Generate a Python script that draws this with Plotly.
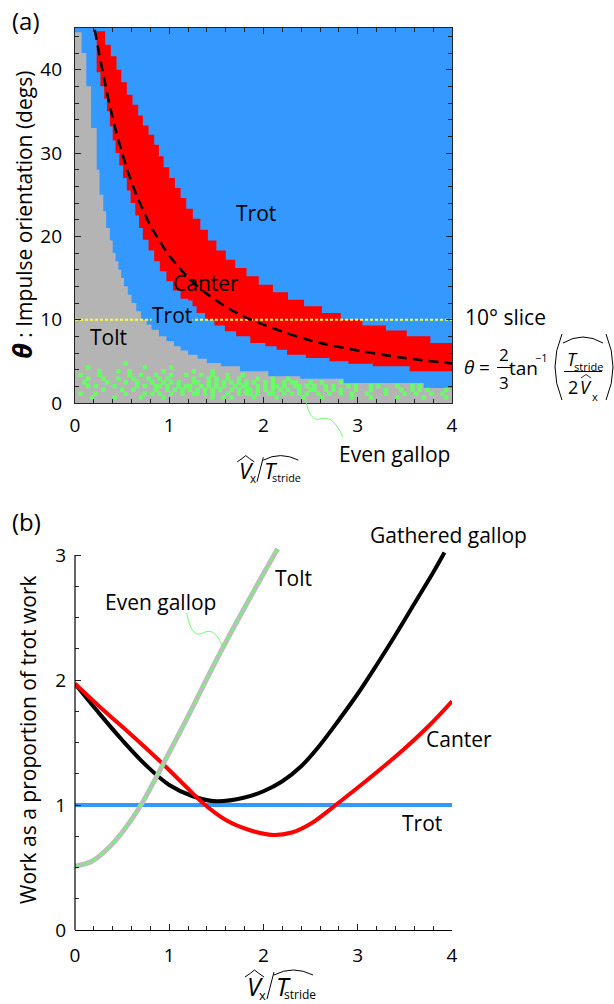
import plotly.graph_objects as go

# ================= Panel (a): gait map =================
# Tolt (gray) upper edge, staircase corners (x, theta in degrees)
tolt_edge_x = [0.00, 0.07, 0.12, 0.17, 0.23, 0.26, 0.30, 0.33, 0.37, 0.40,
               0.43, 0.46, 0.49, 0.52, 0.56, 0.60, 0.65, 0.70, 0.76, 0.82,
               0.89, 0.97, 1.05, 1.12, 1.20, 1.30, 1.40, 1.55, 1.75, 2.05,
               2.39, 2.85, 3.70, 4.00]
tolt_edge_t = [44.5, 42.0, 38.0, 33.0, 28.0, 25.0, 23.0, 21.0, 19.5, 18.0,
               17.0, 16.0, 15.0, 14.0, 13.0, 12.0, 11.0, 10.0, 9.4, 8.8,
               8.0, 7.4, 6.8, 6.3, 5.8, 5.3, 4.8, 4.4, 3.8, 3.2,
               2.9, 2.4, 1.8, 1.8]
# Canter (red) band: upper and lower staircase edges
canter_top_x = [0.23, 0.32, 0.38, 0.44, 0.49, 0.55, 0.61, 0.67, 0.72, 0.78,
                0.84, 0.89, 0.94, 1.00, 1.06, 1.12, 1.18, 1.25, 1.33, 1.41,
                1.50, 1.60, 1.70, 1.82, 1.95, 2.10, 2.26, 2.43, 2.62, 2.82,
                3.05, 3.30, 3.52, 3.77, 4.00]
canter_top_t = [44.6, 43.0, 41.6, 40.0, 38.5, 37.0, 35.8, 34.5, 33.3, 32.2,
                31.0, 29.6, 28.3, 27.0, 25.8, 24.6, 23.3, 22.1, 20.8, 19.5,
                18.3, 17.2, 16.2, 15.2, 14.2, 13.3, 12.4, 11.6, 10.8, 10.0,
                9.3, 8.7, 8.0, 7.2, 7.2]
canter_bot_x = [0.23, 0.27, 0.31, 0.34, 0.37, 0.40, 0.43, 0.47, 0.51, 0.55,
                0.59, 0.64, 0.68, 0.72, 0.78, 0.84, 0.90, 0.97, 1.04, 1.12,
                1.20, 1.29, 1.38, 1.48, 1.59, 1.71, 1.86, 2.02, 2.14, 2.25,
                2.45, 2.70, 2.90, 3.16, 3.55, 4.00]
canter_bot_t = [39.7, 38.0, 36.5, 35.0, 33.2, 31.5, 30.0, 28.5, 27.0, 25.5,
                24.0, 22.5, 21.0, 19.6, 18.3, 17.0, 15.8, 14.6, 13.5, 12.5,
                11.6, 10.8, 10.0, 9.3, 8.6, 8.0, 7.2, 6.8, 6.4, 5.8,
                5.4, 5.0, 4.7, 4.4, 3.8, 3.8]
# dashed curve theta = 2/3 atan(T/(2V))
fit_x = [0.21, 0.3, 0.4, 0.5, 0.6, 0.7, 0.8, 0.9, 1.0, 1.25, 1.5, 1.75,
         2.0, 2.5, 3.0, 3.5, 4.0]
fit_t = [44.8, 39.4, 34.2, 30.0, 26.5, 23.7, 21.3, 19.4, 17.7, 14.5, 12.3,
         10.6, 9.4, 7.5, 6.3, 5.4, 4.75]
slice_x = [0, 4]
slice_t = [10, 10]
# Even-gallop cells inside the tolt region (row 1 = bottom, 0.04 x 0.45 deg cells)
gallop_rows = [
    "....#....." "#......#.." "...#......" "......#..#" ".#.....#.." "...#......" "#....#...." "...#....#." ".....#...." "..#.....#.",
    ".#...#...." "...#....#." "#.#..#..#." ".##.#.#..." "#..#.##.#." ".##..#.#.#" ".#..#..#.." "#..#...#.." "..#....#.." "#...#..#..",
    ".......#.." "..#..#...." ".#..#.#.#." "#.#.#.#.#." ".#.#.##.#." "#.#.#.#..#" "..##..#.#." "#...#...#." "..#...#..#" ".#.#....#.",
    "...#.#...." "#.....#.#." ".##.#..#.#" "#..#.#.#.#" "..#.##..#." "#.##.#..##" ".#.#..#.#." "..#.#...#." "#....#...#" ".#........",
    "..#.....#." "...#..#..." "#..#.#.#.." ".##..#.#.#" ".#.#.#.#.." "#.#..#.##." "..#..#...." "#........." ".........." "..........",
    "...#...#.." ".#...#...#" "..#.#....." ".#...#.#.." "#..#....#." "..#...#..." ".........." ".........." ".........." "..........",
    ".#....#..." "....#..#.." ".#...#...#" "...#..#..." "#...#....." ".........." ".........." ".........." ".........." "..........",
    "......#..." ".#..#....." "...#......" ".#....#..." ".........." ".........." ".........." ".........." ".........." "..........",
    "...#......" "........#." ".....#...." ".........." ".........." ".........." ".........." ".........." ".........." "..........",
    ".........." "...#......" ".........." ".........." ".........." ".........." ".........." ".........." ".........." "..........",
]
CELL_W, CELL_H = 0.04, 0.45

# ================= Panel (b): work curves =================
trot_x = [0, 4]
trot_y = [1, 1]
canter_x = [0, 0.3, 0.6, 0.93, 1.2, 1.35, 1.6, 1.85, 2.1, 2.3, 2.5, 2.8, 3.1, 3.45, 3.75, 4.0]
canter_y = [1.97, 1.76, 1.56, 1.33, 1.13, 1.02, 0.88, 0.80, 0.76, 0.78, 0.85, 1.02, 1.20, 1.42, 1.63, 1.83]
gathered_x = [0, 0.25, 0.5, 0.75, 1.0, 1.25, 1.5, 1.8, 2.0, 2.2, 2.4, 2.6, 2.8, 3.0, 3.2, 3.4, 3.6, 3.8, 3.92]
gathered_y = [1.97, 1.74, 1.52, 1.32, 1.16, 1.07, 1.03, 1.06, 1.11, 1.19, 1.31, 1.48, 1.68, 1.89, 2.12, 2.36, 2.61, 2.86, 3.02]
tolt_x = [0, 0.18, 0.36, 0.52, 0.70, 0.93, 1.18, 1.5, 1.8, 2.15]
tolt_y = [0.51, 0.55, 0.66, 0.80, 1.00, 1.32, 1.68, 2.16, 2.58, 3.05]
even_x = [0, 0.18, 0.36, 0.52, 0.70, 0.93, 1.18, 1.5, 1.8, 2.15]
even_y = [0.51, 0.55, 0.66, 0.80, 1.00, 1.32, 1.68, 2.16, 2.58, 3.05]

# ================= styling =================
BLUE, RED, GRAY, GREEN = "#3399ff", "#ff0000", "#b4b4b4", "#66ff66"
FONT = "Open Sans"
W, H = 614, 1004
ML, MR, MT, MB = 75, 162, 28, 74


def PX(px):
    return (px - ML) / (W - ML - MR)


def PY(py):
    return (H - MB - py) / (H - MT - MB)


def P(px, py):
    return f"{PX(px):.5f},{PY(py):.5f}"


def stairs(xs, ts):
    X, T = [], []
    for i in range(len(xs) - 1):
        X += [xs[i], xs[i + 1]]
        T += [ts[i], ts[i]]
    X.append(xs[-1])
    T.append(ts[-1])
    return X, T


fig = go.Figure()

# --- panel (a) ---
gx, gt = stairs(tolt_edge_x, tolt_edge_t)
fig.add_trace(go.Scatter(x=[0] + gx + [gx[-1]], y=[0] + gt + [0], fill="toself",
                         fillcolor=GRAY, line=dict(width=0), mode="lines",
                         hoverinfo="skip", xaxis="x", yaxis="y"))
ux, ut = stairs(canter_top_x, canter_top_t)
lx, lt = stairs(canter_bot_x, canter_bot_t)
fig.add_trace(go.Scatter(x=ux + lx[::-1], y=ut + lt[::-1], fill="toself",
                         fillcolor=RED, line=dict(width=0), mode="lines",
                         hoverinfo="skip", xaxis="x", yaxis="y"))
cx, cy = [], []
for k, row in enumerate(gallop_rows, start=1):
    for j, ch in enumerate(row):
        if ch != "#":
            continue
        xc = (j + 0.5) * CELL_W
        idx = max(i for i in range(len(tolt_edge_x)) if tolt_edge_x[i] <= xc)
        if (k + 1) * CELL_H <= tolt_edge_t[idx]:
            cx.append(xc)
            cy.append((k + 0.5) * CELL_H)
fig.add_trace(go.Scatter(x=cx, y=cy, mode="markers",
                         marker=dict(symbol="square", size=4.3, color=GREEN, line=dict(width=0)),
                         hoverinfo="skip", xaxis="x", yaxis="y"))
fig.add_trace(go.Scatter(x=slice_x, y=slice_t, mode="lines",
                         line=dict(color="#ffff33", width=2, dash="3px,2px"),
                         hoverinfo="skip", xaxis="x", yaxis="y"))
fig.add_trace(go.Scatter(x=fit_x, y=fit_t, mode="lines", line_shape="spline",
                         line=dict(color="black", width=2.5, dash="10px,6px"),
                         hoverinfo="skip", xaxis="x", yaxis="y"))

# --- panel (b) ---
fig.add_trace(go.Scatter(x=trot_x, y=trot_y, mode="lines", line=dict(color=BLUE, width=4),
                         xaxis="x2", yaxis="y2"))
fig.add_trace(go.Scatter(x=gathered_x, y=gathered_y, mode="lines", line_shape="spline",
                         line=dict(color="black", width=4), xaxis="x2", yaxis="y2"))
fig.add_trace(go.Scatter(x=canter_x, y=canter_y, mode="lines", line_shape="spline",
                         line=dict(color=RED, width=4), xaxis="x2", yaxis="y2"))
fig.add_trace(go.Scatter(x=tolt_x, y=tolt_y, mode="lines", line_shape="spline",
                         line=dict(color="#bdbdbd", width=5), xaxis="x2", yaxis="y2"))
fig.add_trace(go.Scatter(x=even_x, y=even_y, mode="lines", line_shape="spline",
                         line=dict(color=GREEN, width=2, dash="5px,4px"), xaxis="x2", yaxis="y2"))

tickfont = dict(family=FONT, size=19, color="black")
axis_common = dict(showgrid=False, zeroline=False, ticks="inside", tickfont=tickfont,
                   tickwidth=1, tickcolor="#222")

fig.update_layout(
    width=W, height=H, margin=dict(l=ML, r=MR, t=MT, b=MB),
    paper_bgcolor="white", plot_bgcolor="white", showlegend=False,
    font=dict(family=FONT, color="black"),
    xaxis=dict(domain=[0, 1], range=[0, 4], anchor="y", showline=True, linecolor="#222",
               linewidth=1.2, mirror="ticks", ticklen=6, dtick=1, tick0=0,
               ticklabelstandoff=5,
               minor=dict(ticks="inside", ticklen=4, dtick=0.2, tick0=0, tickcolor="#222"),
               **axis_common),
    yaxis=dict(domain=[PY(403), 1], range=[0, 45], anchor="x", showline=True, linecolor="#222",
               linewidth=1.2, mirror="ticks", ticklen=6, dtick=10, tick0=0,
               ticklabelstandoff=8,
               minor=dict(ticks="inside", ticklen=4, dtick=2, tick0=0, tickcolor="#222"),
               **axis_common),
    xaxis2=dict(domain=[0, 1], range=[0, 4], anchor="y2", showline=True, linecolor="black",
                linewidth=1.2, ticklen=6, dtick=1, tick0=0, ticklabelstandoff=8,
                minor=dict(ticks="inside", ticklen=4, dtick=0.2, tick0=0, tickcolor="#222"),
                **axis_common),
    yaxis2=dict(domain=[0, PY(930 - 3.12 * 125)], range=[0, 3.12], anchor="x2", showline=False,
                ticklen=6, tickvals=[0, 1, 2, 3], ticklabelstandoff=8,
                minor=dict(ticks="inside", ticklen=4, dtick=0.25, tick0=0, tickcolor="#222"),
                **axis_common),
)

shapes = [
    dict(type="rect", xref="x", yref="y", x0=0, x1=4, y0=0, y1=45, layer="below",
         fillcolor=BLUE, line=dict(width=0)),
    dict(type="line", xref="paper", yref="y2", x0=0, x1=0, y0=0, y1=3,
         line=dict(color="black", width=1.2)),
]
ann = []


def txt(px, py, text, size=21, xanchor="center", yanchor="middle", **kw):
    ann.append(dict(x=PX(px), y=PY(py), xref="paper", yref="paper", text=text,
                    showarrow=False, xanchor=xanchor, yanchor=yanchor,
                    font=dict(family=FONT, size=size, color="black"), **kw))


def path(d, color="black", width=1.2):
    shapes.append(dict(type="path", xref="paper", yref="paper", path=d,
                       line=dict(color=color, width=width)))


def xtitle(x0, y0, s):
    # hat over V
    path(f"M{P(x0 - 2*s, y0 + 1*s)} Q{P(x0 + 4*s, y0 - 3*s)} {P(x0 + 7.5*s, y0 - 6*s)} "
         f"Q{P(x0 + 11*s, y0 - 3*s)} {P(x0 + 17*s, y0 + 1*s)}", width=1)
    txt(x0 + 8*s, y0 + 10*s, "<i>V</i>", size=25*s)
    txt(x0 + 15*s, y0 + 19*s, "x", size=13*s)
    path(f"M{P(x0 + 20*s, y0 + 23*s)} L{P(x0 + 27*s, y0 - 4*s)}", width=1)
    txt(x0 + 36*s, y0 + 10*s, "<i>T</i>", size=25*s)
    txt(x0 + 52.5*s, y0 + 18*s, "stride", size=12*s)
    path(f"M{P(x0 + 27*s, y0 - 1*s)} Q{P(x0 + 46*s, y0 - 11*s)} {P(x0 + 66*s, y0 - 1*s)}", width=1)


# panel labels
txt(26, 21, "(a)", size=24)
txt(26, 521, "(b)", size=24)
# panel (a) labels
txt(256, 213, "Trot")
txt(206, 283, "Canter")
txt(172, 315, "Trot", bgcolor=BLUE, borderpad=0)
txt(108, 337, "Tolt")
txt(463, 317, "10° slice", xanchor="left")
txt(337, 454, "Even gallop", xanchor="left")
path(f"M{P(305, 395)} C{P(307, 412)} {P(312, 421)} {P(320, 419)} "
     f"C{P(328, 417)} {P(334, 418)} {P(343, 437)}", color=GREEN, width=1)
txt(22, 215, "<span style='font-size:27px'><b><i>θ</i></b></span> : Impulse orientation (degs)",
    textangle=-90)
xtitle(239, 461, 0.9)
# formula
txt(469, 367, "<i>θ</i>", size=19)
txt(485, 367, "=", size=19)
txt(504, 354, "2", size=17)
txt(504, 382, "3", size=17)
path(f"M{P(497, 367.5)} L{P(511, 367.5)}", width=1)
txt(523, 368, "tan", size=19)
txt(541, 357, "−1", size=11)
path(f"M{P(562, 334)} Q{P(548, 367)} {P(562, 400)}", width=1)
path(f"M{P(606, 334)} Q{P(620, 367)} {P(606, 400)}", width=1)
path(f"M{P(563, 343)} Q{P(583, 331)} {P(603, 343)}", width=1)
txt(572, 359, "<i>T</i>", size=18)
txt(588, 366, "stride", size=11)
path(f"M{P(564, 371.5)} L{P(602, 371.5)}", width=1)
txt(573, 387, "2", size=18)
txt(586, 387, "<i>V</i>", size=18)
path(f"M{P(581, 378)} L{P(586, 374.5)} L{P(591, 378)}", width=0.8)
txt(595, 396, "x", size=11)

# panel (b) labels
txt(448, 535, "Gathered gallop")
txt(293, 578, "Tolt")
txt(160, 602, "Even gallop")
path(f"M{P(186.7, 613)} C{P(190, 630)} {P(195, 637)} {P(203, 633)} "
     f"C{P(211, 629)} {P(217, 632)} {P(223, 648)}", color=GREEN, width=1)
txt(459, 739, "Canter")
txt(422, 823, "Trot")
txt(28, 740, "Work as a proportion of trot work", textangle=-90)
xtitle(247, 976, 1.0)

fig.update_layout(shapes=shapes, annotations=ann)
fig.write_html("out.html", config={"displayModeBar": False},
               post_script="document.body.style.margin='0px';")
